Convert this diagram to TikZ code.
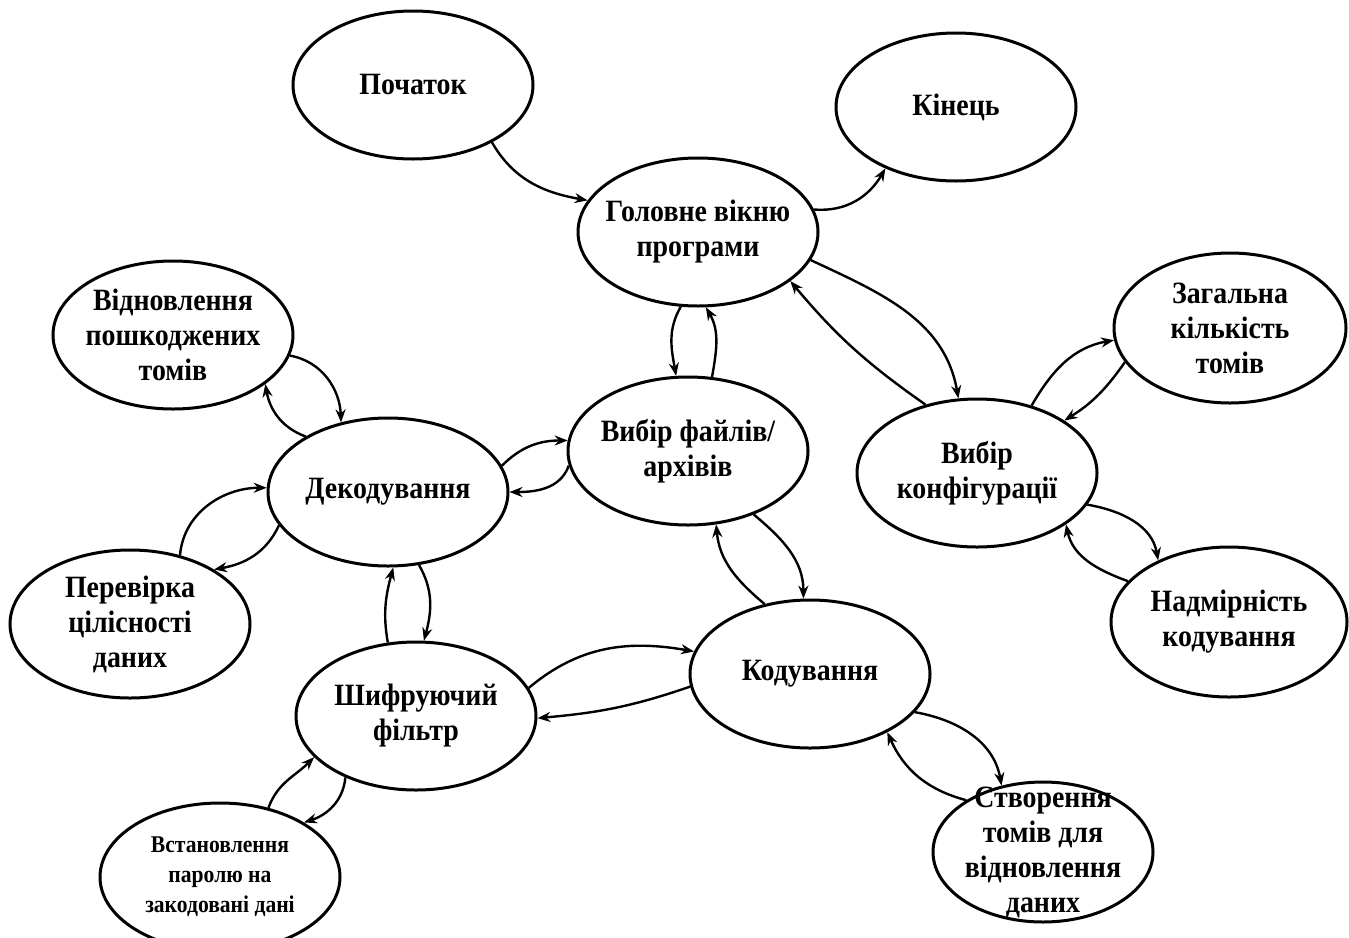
\documentclass[tikz,border=0pt]{standalone}
\usepackage{fontspec}
\setmainfont{Liberation Serif}[FakeStretch=0.9]
\usepackage{tikz}
\usetikzlibrary{shapes.geometric}
\usetikzlibrary{arrows.meta}
\tikzset{
  blob/.style={ellipse, draw, line width=3pt, minimum width=240pt, minimum height=148pt,
    inner ysep=0pt, inner xsep=-15pt, align=center, font=\fontsize{31}{35}\selectfont\bfseries},
  link/.style={line width=2.4pt, -{Stealth[length=13pt,width=10pt]}}
}
\begin{document}
\begin{tikzpicture}[x=1pt,y=-1pt]
        \useasboundingbox (0,0) rectangle (1349,937);
        % top row
        \node[blob] (start) at (413,85) {Початок};
        \node[blob] (end) at (956,107) {Кінець};
        \node[blob] (main) at (698,232) {Головне вікню\\програми};
        % left side
        \node[blob] (recover) at (173,335) {Відновлення\\пошкоджених\\томів};
        \node[blob] (decode) at (388,492) {Декодування};
        \node[blob] (check) at (130,624) {Перевірка\\цілісності\\даних};
        \node[blob] (cipher) at (416,716) {Шифруючий\\фільтр};
        \node[blob, font=\fontsize{24}{30}\selectfont\bfseries] (passwd) at (220,877) {Встановлення\\паролю на\\закодовані дані};
        % middle
        \node[blob] (files) at (688,451) {Вибір файлів/\\архівів};
        \node[blob] (encode) at (810,674) {Кодування};
        \node[blob, minimum width=220pt, minimum height=140pt, inner ysep=-30pt] (create) at (1043,852) {Створення\\томів для\\відновлення\\даних};
        % right side
        \node[blob] (config) at (977,473) {Вибір\\конфігурації};
        \node[blob, minimum width=232pt, minimum height=150pt] (total) at (1230,328) {Загальна\\кількість\\томів};
        \node[blob, minimum width=236pt, minimum height=150pt] (redund) at (1229,622) {Надмірність\\кодування};
        % links from main window
        \draw[link] (start.-36) to[out=-60,in=170] (main.164);
        \draw[link] (main.11) to[out=-5,in=-120] (end.-139);
        \draw[link] (main.-103) to[out=-120,in=100] (files.99);
        \draw[link] (files.72) to[out=80,in=-60] (main.-84);
        \draw[link] (main.-14) to[out=-25,in=100] (config.104);
        \draw[link] (config.127) to[out=145,in=-50] (main.-28);
        % links of configuration
        \draw[link] (config.51) to[out=60,in=190] (total.-174);
        \draw[link] (total.-162) to[out=-125,in=32] (config.31);
        \draw[link] (config.-16) to[out=-10,in=100] (redund.139);
        \draw[link] (redund.158) to[out=160,in=-78] (config.-30);
        % links of files
        \draw[link] (files.-44) to[out=-40,in=90] (encode.95);
        \draw[link] (encode.123) to[out=140,in=-85] (files.-69);
        \draw[link] (decode.13) to[out=45,in=180] (files.175);
        \draw[link] (files.-173) to[out=-110,in=0] (decode.0);
        % links of decoding
        \draw[link] (recover.-10) to[out=-10,in=92] (decode.124);
        \draw[link] (decode.146) to[out=160,in=-80] (recover.-28);
        \draw[link] (check.54) to[out=85,in=180] (decode.178);
        \draw[link] (decode.-163) to[out=-115,in=10] (check.33);
        \draw[link] (cipher.111) to[out=100,in=-105] (decode.-86);
        \draw[link] (decode.-67) to[out=-60,in=75] (cipher.84);
        % links of cipher and encoding
        \draw[link] (cipher.14) to[out=40,in=170] (encode.169);
        \draw[link] (encode.-174) to[out=199,in=5] (cipher.-1);
        \draw[link] (passwd.55) to[out=70,in=-135] (cipher.-158);
        \draw[link] (cipher.-139) to[out=-95,in=18] (passwd.33);
        \draw[link] (encode.-20) to[out=-10,in=100] (create.122);
        \draw[link] (create.146) to[out=165,in=-66] (encode.-37);
\end{tikzpicture}
\end{document}
